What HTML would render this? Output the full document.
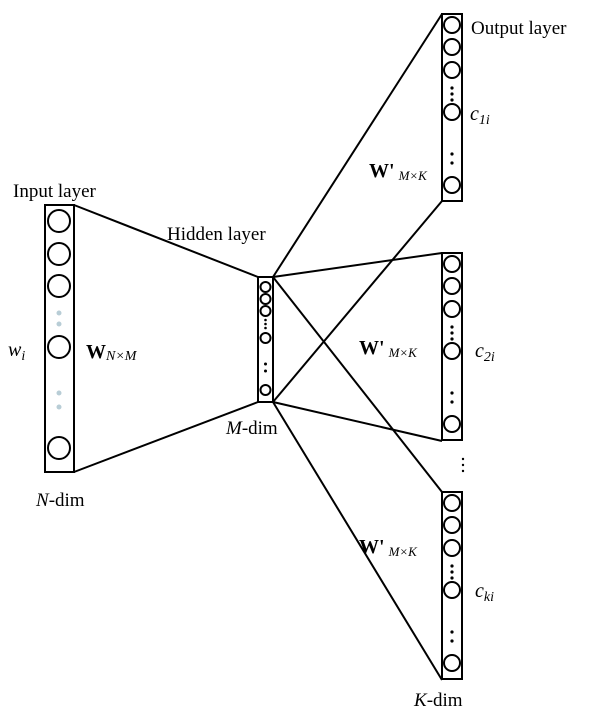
<!DOCTYPE html>
<html><head><meta charset="utf-8"><style>
body{margin:0;background:#fff}
svg{display:block}
text{font-family:"Liberation Serif",serif;fill:#000}
</style></head><body>
<svg width="601" height="715" viewBox="0 0 601 715">
<g stroke="#000" stroke-width="2" fill="none">
<line x1="74" y1="205" x2="258" y2="277"/>
<line x1="74" y1="472" x2="258" y2="402"/>
<line x1="273" y1="277" x2="442" y2="14"/>
<line x1="273" y1="402" x2="442" y2="201"/>
<line x1="273" y1="277" x2="442" y2="253"/>
<line x1="273" y1="402" x2="442" y2="441"/>
<line x1="273" y1="277" x2="442" y2="492"/>
<line x1="273" y1="402" x2="442" y2="680"/>
</g>
<g stroke="#000" stroke-width="2" fill="#fff">
<rect x="45" y="205" width="29" height="267"/>
<circle cx="59" cy="221" r="11"/><circle cx="59" cy="254" r="11"/><circle cx="59" cy="286" r="11"/>
<circle cx="59" cy="347" r="11"/><circle cx="59" cy="448" r="11"/>
</g>
<g fill="#b8cdd6">
<circle cx="59" cy="313" r="2.5"/><circle cx="59" cy="324" r="2.5"/>
<circle cx="59" cy="393" r="2.5"/><circle cx="59" cy="407" r="2.5"/>
</g>
<g stroke="#000" stroke-width="2" fill="#fff">
<rect x="258" y="277" width="15" height="125"/>
<circle cx="265.5" cy="287" r="5"/><circle cx="265.5" cy="299" r="5"/><circle cx="265.5" cy="311" r="5"/>
<circle cx="265.5" cy="338" r="5"/><circle cx="265.5" cy="390" r="5"/>
</g>
<g fill="#000">
<circle cx="265.5" cy="320" r="1.3"/><circle cx="265.5" cy="324" r="1.3"/><circle cx="265.5" cy="328" r="1.3"/>
<circle cx="265.5" cy="364" r="1.5"/><circle cx="265.5" cy="371" r="1.5"/>
</g>
<g id="outs"></g>
<g fill="#000">
<circle cx="463" cy="459" r="1.2"/><circle cx="463" cy="465" r="1.2"/><circle cx="463" cy="471" r="1.2"/>
</g>
<text x="13" y="197" font-size="19">Input layer</text>
<text x="167" y="240" font-size="19">Hidden layer</text>
<text x="471" y="34" font-size="19">Output layer</text>
<text x="8" y="356" font-size="20" font-style="italic">w<tspan font-size="14" dy="4">i</tspan></text>
<text x="86" y="358" font-size="20" font-weight="bold">W<tspan font-size="14" font-weight="normal" font-style="italic" dy="2">N×M</tspan></text>
<text x="36" y="506" font-size="19"><tspan font-style="italic">N</tspan>-dim</text>
<text x="226" y="434" font-size="19"><tspan font-style="italic">M</tspan>-dim</text>
<text x="414" y="706" font-size="19"><tspan font-style="italic">K</tspan>-dim</text>
<text x="369" y="177" font-size="20" font-weight="bold">W'<tspan font-size="13" font-weight="normal" font-style="italic" dx="4" dy="3">M×K</tspan></text>
<text x="359" y="354" font-size="20" font-weight="bold">W'<tspan font-size="13" font-weight="normal" font-style="italic" dx="4" dy="3">M×K</tspan></text>
<text x="359" y="553" font-size="20" font-weight="bold">W'<tspan font-size="13" font-weight="normal" font-style="italic" dx="4" dy="3">M×K</tspan></text>
<text x="470" y="120" font-size="20" font-style="italic">c<tspan font-size="14" dy="4">1i</tspan></text>
<text x="475" y="357" font-size="20" font-style="italic">c<tspan font-size="14" dy="4">2i</tspan></text>
<text x="475" y="597" font-size="20" font-style="italic">c<tspan font-size="14" dy="4">ki</tspan></text>
</svg>
<script>
const panelTops=[14,253,492];
const panelHeight=187;
const ns="http://www.w3.org/2000/svg";
const outs=document.getElementById('outs');
panelTops.forEach((t,i)=>{
  const g=document.createElementNS(ns,'g');
  
  
  g.setAttribute('stroke','#000');g.setAttribute('stroke-width','2');g.setAttribute('fill','#fff');
  const r=document.createElementNS(ns,'rect');
  r.setAttribute('x',442);r.setAttribute('y',t);r.setAttribute('width',20);r.setAttribute('height',panelHeight);
  g.appendChild(r);
  [10,32,55,97,170].forEach(o=>{
    const c=document.createElementNS(ns,'circle');
    c.setAttribute('cx',452);c.setAttribute('cy',t+o+1);c.setAttribute('r',8);
    g.appendChild(c);
  });
  [74,80,86,140,149].forEach(o=>{
    const d=document.createElementNS(ns,'circle');
    d.setAttribute('cx',452);d.setAttribute('cy',t+o);d.setAttribute('r',1.6);
    d.setAttribute('fill','#000');d.setAttribute('stroke','none');
    g.appendChild(d);
  });
  outs.appendChild(g);
});
</script>
</body></html>
